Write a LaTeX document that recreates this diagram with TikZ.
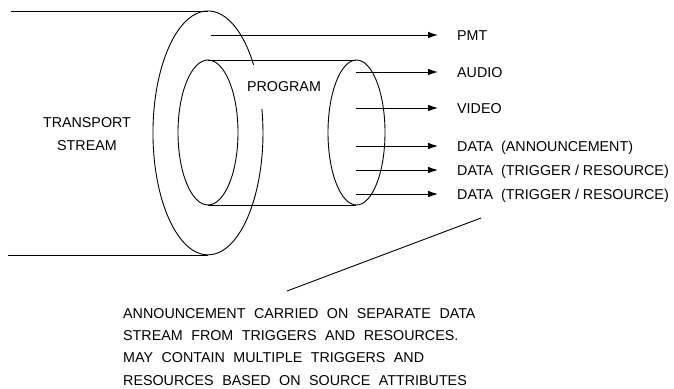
\documentclass[tikz,border=0pt]{standalone}
\usepackage{fontspec}
\setmainfont{Liberation Sans}
\usetikzlibrary{arrows.meta}
\newcommand\widewordspace{\spaceskip=8.5pt\relax}
\begin{document}
\begin{tikzpicture}[x=1pt,y=-1pt,
  line/.style={line width=0.9pt, black},
  arr/.style={line, -{Latex[length=10pt,width=6.5pt]}, shorten >=19pt},
  lbl/.style={inner sep=0pt, anchor=west, text height=10pt, text depth=0pt, font=\fontsize{14.3}{16}\selectfont},
  txt/.style={inner sep=0pt, font={\fontsize{14.3}{22.3}\selectfont\widewordspace}}]
\useasboundingbox (0,0) rectangle (674,388);
% outer cylinder (transport stream)
\coordinate (oT) at (208,11);
\coordinate (oB) at (208,255);
\coordinate (oTL) at (11,11);
\coordinate (oBL) at (8,255);
\draw[line] (oTL) -- (oT);
\draw[line] (oBL) -- (oB);
\draw[line] (261.9,109) arc[start angle=-11.3, end angle=326.1, x radius=55, y radius=122];
% inner cylinder (program)
\coordinate (pTL) at (208,60);
\coordinate (pBL) at (208,205);
\coordinate (pTR) at (356,60);
\coordinate (pBR) at (356,205);
\draw[line] (208,132.5) ellipse[x radius=30, y radius=72.5];
\draw[line] (pTL) -- (pTR);
\draw[line] (pBL) -- (pBR);
\draw[line] (356.5,132.5) ellipse[x radius=28.5, y radius=72.5];
% texts
\node[txt, align=center] (ts) at (87,134) {TRANSPORT\\STREAM};
\node[lbl, anchor=center] (prog) at (284,86) {PROGRAM};
% outputs
\node[lbl] (pmt) at (457,35) {PMT};
\node[lbl] (audio) at (457,72) {AUDIO};
\node[lbl] (video) at (457,108) {VIDEO};
\node[lbl] (dann) at (457,146) {DATA~~(ANNOUNCEMENT)};
\node[lbl] (dtr1) at (457,170) {DATA~~(TRIGGER / RESOURCE)};
\node[lbl] (dtr2) at (457,194) {DATA~~(TRIGGER / RESOURCE)};
\coordinate (sP) at (211,35);
\coordinate (sA) at (356,72);
\coordinate (sV) at (356,108);
\coordinate (sD1) at (356,146);
\coordinate (sD2) at (356,170);
\coordinate (sD3) at (356,194);
\draw[arr] (sP) -- (pmt.west);
\draw[arr] (sA) -- (audio.west);
\draw[arr] (sV) -- (video.west);
\draw[arr] (sD1) -- (dann.west);
\draw[arr] (sD2) -- (dtr1.west);
\draw[arr] (sD3) -- (dtr2.west);
% note
\coordinate (d1) at (481,218);
\coordinate (d2) at (287,291);
\draw[line] (d1) -- (d2);
\node[txt, anchor=north west, align=left] (note) at (123,308) {ANNOUNCEMENT CARRIED ON SEPARATE DATA\\STREAM FROM TRIGGERS AND RESOURCES.\\MAY CONTAIN MULTIPLE TRIGGERS AND\\RESOURCES BASED ON SOURCE ATTRIBUTES};
\end{tikzpicture}
\end{document}
